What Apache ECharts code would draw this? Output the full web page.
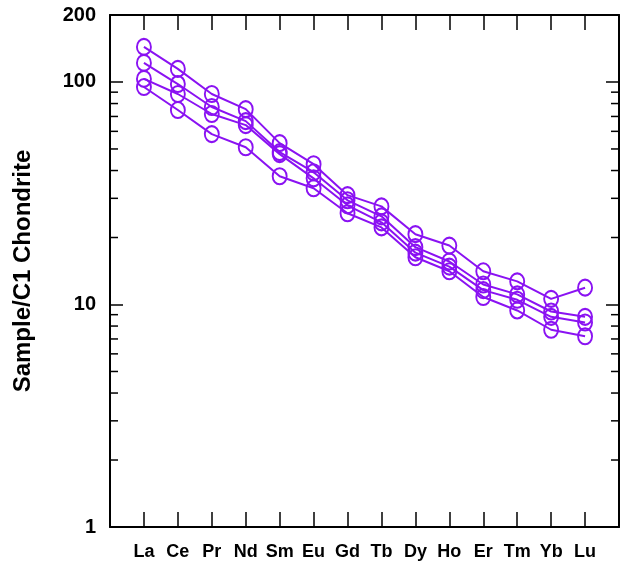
<!DOCTYPE html>
<html>
<head>
<meta charset="utf-8">
<script src="https://cdn.jsdelivr.net/npm/echarts@6/dist/echarts.min.js"></script>
<style>
  html, body { margin: 0; padding: 0; background: #fff; }
  #chart { width: 622px; height: 562px; }
</style>
</head>
<body>
<div id="chart"></div>
<script>
// REE elements along the x axis
const elements = ['La', 'Ce', 'Pr', 'Nd', 'Sm', 'Eu', 'Gd', 'Tb', 'Dy', 'Ho', 'Er', 'Tm', 'Yb', 'Lu'];

// Chondrite-normalised REE patterns, one array per sample
const sample1 = [143.8, 114.5, 88.3, 75.5, 53.1, 42.7, 31.0, 27.6, 20.7, 18.4, 14.1, 12.7, 10.6, 11.9];
const sample2 = [121.8, 97.9, 77.2, 66.7, 48.4, 39.3, 29.4, 24.9, 18.1, 15.6, 12.3, 11.1, 9.3, 8.8];
const sample3 = [103.2, 88.3, 71.8, 64.0, 47.4, 36.9, 27.9, 23.4, 17.1, 14.8, 11.6, 10.5, 8.8, 8.3];
const sample4 = [94.9, 74.8, 58.3, 50.9, 37.7, 33.3, 25.7, 22.2, 16.3, 14.1, 10.8, 9.4, 7.7, 7.2];
const samples = [sample1, sample2, sample3, sample4];

// Minor log ticks (2..9 in every decade)
const minorTickValues = [2, 3, 4, 5, 6, 7, 8, 9, 20, 30, 40, 50, 60, 70, 80, 90];

const purple = '#8A12F2';
const black = '#000';
const font = 'Liberation Sans, Arial, Helvetica, sans-serif';

const chart = echarts.init(document.getElementById('chart'), null, { renderer: 'canvas' });

const xBase = {
  type: 'value', min: -1, max: 14, interval: 1,
  splitLine: { show: false },
  axisLine: { show: true, onZero: false, lineStyle: { color: black, width: 2 } },
  axisTick: { show: true, inside: true, length: 15, lineStyle: { color: black, width: 1.5 } }
};

const yBase = {
  type: 'log', logBase: 10, min: 1, max: 200,
  splitLine: { show: false },
  axisLine: { show: true, onZero: false, lineStyle: { color: black, width: 2 } },
  axisTick: { show: true, inside: true, length: 13, lineStyle: { color: black, width: 1.5 } }
};

const lineSeries = samples.map((vals, k) => ({
  type: 'line',
  name: 'S' + (k + 1),
  xAxisIndex: 0, yAxisIndex: 0,
  data: vals.map((v, i) => [i, v]),
  symbol: 'circle',
  symbolSize: [14, 16],
  showAllSymbol: true,
  lineStyle: { color: purple, width: 2 },
  itemStyle: { color: 'rgba(0,0,0,0)', borderColor: purple, borderWidth: 2 },
  emphasis: { disabled: true },
  z: 3
}));

// Short inward ticks on both vertical frame edges at the minor log values
const minorTicks = {
  type: 'custom',
  xAxisIndex: 0, yAxisIndex: 0,
  data: minorTickValues.map(v => [v]),
  clip: false,
  silent: true,
  renderItem: function (params, api) {
    const v = api.value(0);
    const l = api.coord([-1, v]);
    const r = api.coord([14, v]);
    const style = { stroke: black, lineWidth: 1.5 };
    return {
      type: 'group',
      children: [
        { type: 'line', shape: { x1: l[0], y1: l[1], x2: l[0] + 8, y2: l[1] }, style: style },
        { type: 'line', shape: { x1: r[0], y1: r[1], x2: r[0] - 8, y2: r[1] }, style: style }
      ]
    };
  },
  z: 2
};

chart.setOption({
  animation: false,
  backgroundColor: '#fff',
  grid: { left: 110, right: 1, top: 15, bottom: 35, containLabel: false },
  xAxis: [
    Object.assign({}, xBase, {
      position: 'bottom',
      axisLabel: {
        show: true, margin: 16, color: black,
        fontFamily: font, fontWeight: 'bold', fontSize: 18,
        formatter: v => (Number.isInteger(v) && v >= 0 && v < elements.length) ? elements[v] : ''
      }
    }),
    Object.assign({}, xBase, { position: 'top', axisLabel: { show: false } })
  ],
  yAxis: [
    Object.assign({}, yBase, {
      position: 'left',
      name: 'Sample/C1 Chondrite',
      nameLocation: 'middle',
      nameGap: 75,
      nameTextStyle: { color: black, fontFamily: font, fontWeight: 'bold', fontSize: 24 },
      axisLabel: {
        show: true, margin: 14, color: black,
        fontFamily: font, fontWeight: 'bold', fontSize: 20
      }
    }),
    Object.assign({}, yBase, { position: 'right', axisLabel: { show: false } })
  ],
  series: lineSeries.concat([minorTicks])
});
</script>
</body>
</html>
